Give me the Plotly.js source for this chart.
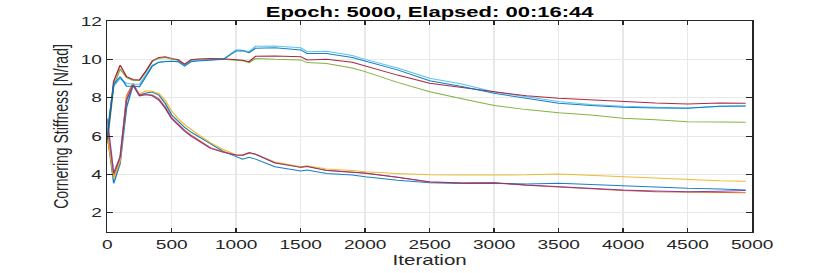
<!DOCTYPE html>
<html><head><meta charset="utf-8">
<script src="https://cdn.plot.ly/plotly-3.0.1.min.js"></script>
<style>
html,body{margin:0;padding:0;background:#fff;overflow:hidden;}
#wrap{width:830px;height:273px;overflow:hidden;}
#plot{width:565px;height:273px;transform:scaleX(1.469);transform-origin:0 0;}
</style></head><body>
<div id="wrap"><div id="plot"></div></div>
<script>
const iterations = [0,50,100,150,200,250,300,350,400,450,500,550,600,650,700,800,900,1000,1050,1100,1150,1300,1500,1550,1700,1900,2000,2250,2500,2750,3000,3250,3500,3750,4000,4250,4500,4750,4950];

const lightBlueUpper = [6.3,8.6,9.0,8.75,8.7,8.7,9.2,9.7,9.85,9.9,9.9,9.88,9.7,9.9,9.95,9.97,10.0,10.5,10.48,10.4,10.68,10.7,10.6,10.4,10.42,10.2,10.0,9.55,9.02,8.72,8.3,8.05,7.8,7.65,7.55,7.5,7.47,7.55,7.57];
const blueUpper = [6.0,8.7,9.1,8.6,8.6,8.58,9.1,9.65,9.85,9.88,9.9,9.88,9.65,9.88,9.92,9.95,10.0,10.44,10.45,10.35,10.58,10.6,10.49,10.3,10.3,10.1,9.91,9.45,8.89,8.58,8.23,7.95,7.71,7.6,7.5,7.47,7.45,7.55,7.57];
const redUpper = [5.8,8.85,9.7,9.1,8.95,8.93,9.4,9.93,10.1,10.14,10.05,9.98,9.75,9.98,10.02,10.05,10.03,10.0,9.95,9.88,10.16,10.18,10.14,9.97,10.0,9.85,9.65,9.18,8.75,8.52,8.31,8.1,7.97,7.88,7.79,7.72,7.67,7.72,7.71];
const greenUpper = [5.6,8.6,9.5,9.05,8.9,8.9,9.35,9.9,10.05,10.1,10.0,9.95,9.72,9.95,9.98,10.0,10.0,9.95,9.93,9.83,10.04,10.0,9.97,9.83,9.78,9.55,9.36,8.8,8.31,7.95,7.6,7.38,7.22,7.1,6.93,6.85,6.75,6.74,6.72];

const blueLower = [6.2,3.54,4.58,7.5,8.66,8.14,8.25,8.3,8.14,7.7,7.1,6.75,6.45,6.2,6.0,5.55,5.2,4.93,4.79,4.89,4.8,4.4,4.18,4.23,4.05,3.97,3.88,3.7,3.57,3.53,3.54,3.5,3.54,3.48,3.41,3.33,3.28,3.24,3.19];
const purpleLower = [6.9,4.06,4.93,7.88,8.66,8.1,8.15,8.1,7.88,7.45,6.9,6.55,6.25,6.0,5.78,5.36,5.15,5.01,5.0,5.13,5.05,4.6,4.37,4.42,4.2,4.12,4.06,3.85,3.62,3.56,3.57,3.45,3.36,3.27,3.19,3.14,3.1,3.13,3.16];
const orangeLower = [6.0,3.9,4.8,8.1,8.75,8.15,8.2,8.15,7.95,7.5,6.95,6.6,6.3,6.05,5.82,5.4,5.18,5.02,5.01,5.14,5.06,4.62,4.38,4.43,4.22,4.13,4.07,3.86,3.6,3.55,3.56,3.44,3.34,3.25,3.17,3.1,3.08,3.06,3.05];
const yellowLower = [6.1,3.8,4.7,8.0,8.6,8.2,8.36,8.33,8.22,7.85,7.3,6.9,6.6,6.35,6.1,5.66,5.3,5.02,4.98,5.1,5.05,4.65,4.4,4.45,4.28,4.2,4.14,4.05,3.98,3.97,3.96,3.98,4.02,3.95,3.88,3.8,3.71,3.67,3.64];

const xTicks = [0,500,1000,1500,2000,2500,3000,3500,4000,4500,5000];
const yTicks = [2,4,6,8,10,12];

const series = [
  {y: blueLower, c: '#0072BD'},
  {y: orangeLower, c: '#D95319'},
  {y: yellowLower, c: '#EDB120'},
  {y: purpleLower, c: '#7E2F8E'},
  {y: greenUpper, c: '#77AC30'},
  {y: lightBlueUpper, c: '#4DBEEE'},
  {y: redUpper, c: '#A2142F'},
  {y: blueUpper, c: '#0072BD'}
];

const traces = series.map(s => ({
  x: iterations, y: s.y, type: 'scatter', mode: 'lines',
  line: {color: s.c, width: 1}, opacity: 0.9, showlegend: false, hoverinfo: 'skip'
}));

const axisCommon = {
  showline: true, linecolor: '#262626', linewidth: 1, mirror: 'ticks',
  ticks: 'inside', ticklen: 4, tickcolor: '#262626', tickwidth: 1,
  showgrid: true, gridcolor: '#e8e8e8', gridwidth: 1, zeroline: false,
  tickfont: {family: 'Liberation Sans, Arial, sans-serif', size: 13, color: '#262626'}
};

const layout = {
  width: 565, height: 273,
  margin: {l: 73, r: 53, t: 21, b: 41, pad: 0},
  paper_bgcolor: '#fff', plot_bgcolor: '#fff',
  title: {text: 'Epoch: 5000, Elapsed: 00:16:44', font: {family: 'Liberation Sans, Arial, sans-serif', size: 15, color: '#000', weight: 'bold'},
          x: 0.5, xref: 'paper', xanchor: 'center', y: 0.957, yref: 'container', yanchor: 'middle'},
  xaxis: Object.assign({}, axisCommon, {
    range: [0, 5000], tickvals: xTicks, ticktext: xTicks.map(String),
    title: {text: 'Iteration', font: {family: 'Liberation Sans, Arial, sans-serif', size: 14, color: '#262626'}, standoff: 2}
  }),
  yaxis: Object.assign({}, axisCommon, {
    range: [1, 12], tickvals: yTicks, ticktext: yTicks.map(String),
    title: {text: 'Cornering Stiffness [N/rad]', font: {family: 'Liberation Sans, Arial, sans-serif', size: 14, color: '#262626'}, standoff: 4}
  })
};

Plotly.newPlot('plot', traces, layout, {displayModeBar: false, staticPlot: true});
</script>
</body></html>
